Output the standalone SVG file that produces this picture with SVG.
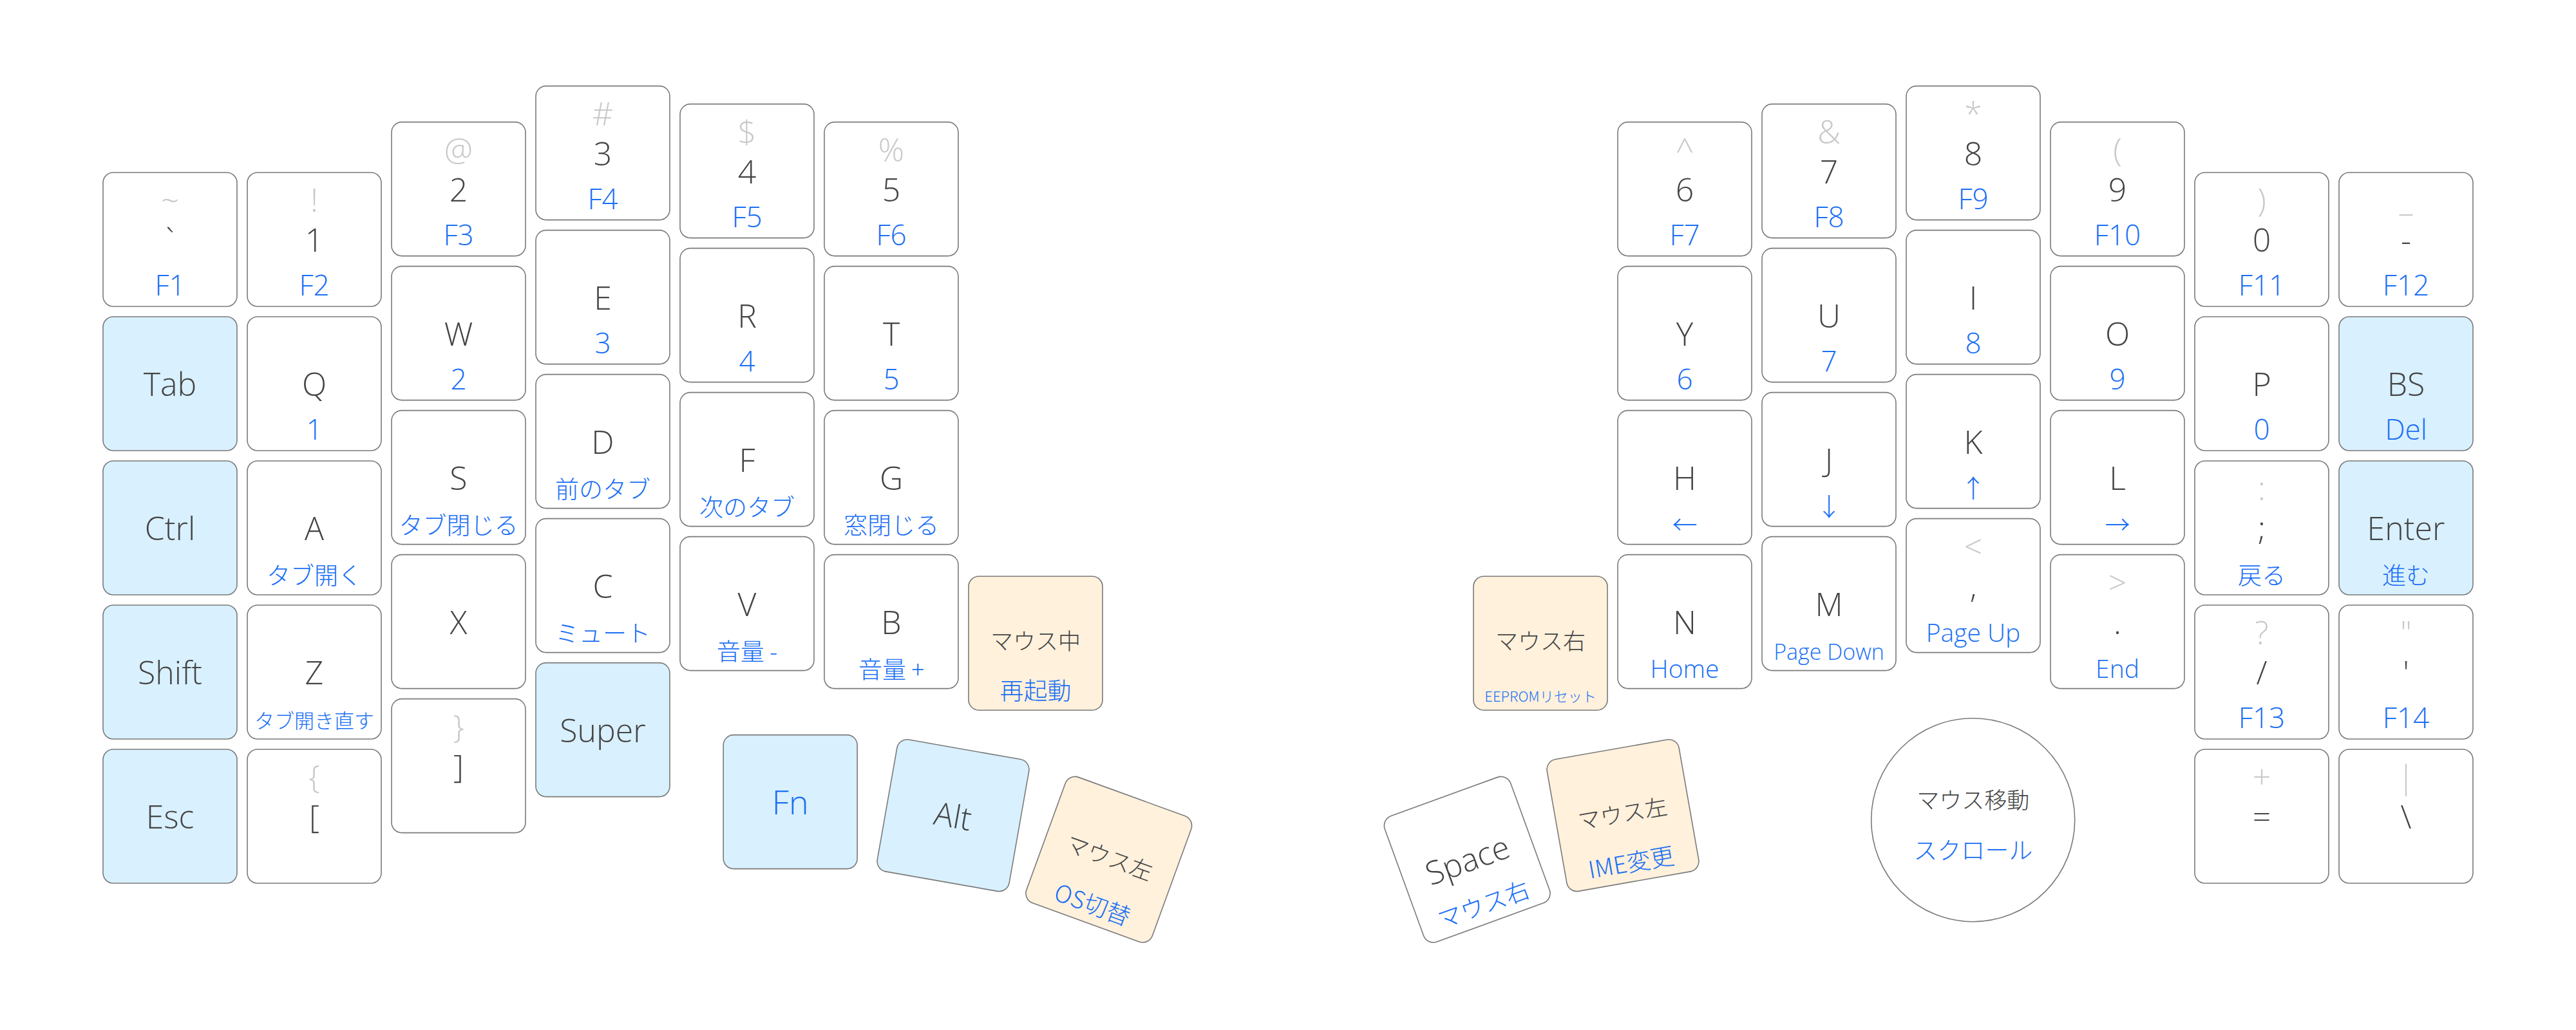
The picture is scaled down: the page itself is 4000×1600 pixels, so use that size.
<svg xmlns="http://www.w3.org/2000/svg" width="4000" height="1600" viewBox="0 0 4000 1600">
<style>
.bg{fill:#ffffff}
.key{fill:#ffffff;stroke:#7a7a7a;stroke-width:1.6}
.mod{fill:#d9f0fe}
.mouse{fill:#fff1dc}
text{font-family:"Open Sans","Noto Sans CJK JP",sans-serif;font-weight:300;text-anchor:middle}
.m{font-size:50px;fill:#444444}
.s{font-size:50px;fill:#c8c8c8}
.b{font-size:39px;fill:#1a6ff5}
.bf{font-size:44px;fill:#1a6ff5}
.bj{font-size:37px;fill:#1a6ff5;font-family:"Noto Sans CJK JP",sans-serif}
.j{font-size:35px;fill:#444444;font-family:"Noto Sans CJK JP",sans-serif}
.fn{font-size:52px;fill:#1a6ff5}
.sm{font-size:31px;fill:#1a6ff5;font-family:"Noto Sans CJK JP",sans-serif}
.xs{font-size:22px;fill:#1a6ff5;font-family:"Noto Sans CJK JP",sans-serif}
.pd{font-size:34px;fill:#1a6ff5}
</style>
<defs>
<rect id="kb" width="208" height="208" rx="16" ry="16"/>
</defs>
<rect class="bg" x="0" y="0" width="4000" height="1600"/>
<g id="connectors"/>
<!-- LEFT HALF -->
<g id="k-grave" transform="translate(160,268)"><use href="#kb" class="key"/><text class="s" x="104" y="61">~</text><text class="m" x="104" y="123">`</text><text class="bf" x="104" y="191">F1</text></g>
<g id="k-tab" transform="translate(160,492)"><use href="#kb" class="key mod"/><text class="m" x="104" y="123">Tab</text></g>
<g id="k-ctrl" transform="translate(160,716)"><use href="#kb" class="key mod"/><text class="m" x="104" y="123">Ctrl</text></g>
<g id="k-shift" transform="translate(160,940)"><use href="#kb" class="key mod"/><text class="m" x="104" y="123">Shift</text></g>
<g id="k-esc" transform="translate(160,1164)"><use href="#kb" class="key mod"/><text class="m" x="104" y="123">Esc</text></g>

<g id="k-1" transform="translate(384,268)"><use href="#kb" class="key"/><text class="s" x="104" y="61">!</text><text class="m" x="104" y="123">1</text><text class="bf" x="104" y="191">F2</text></g>
<g id="k-q" transform="translate(384,492)"><use href="#kb" class="key"/><text class="m" x="104" y="123">Q</text><text class="bf" x="104" y="191">1</text></g>
<g id="k-a" transform="translate(384,716)"><use href="#kb" class="key"/><text class="m" x="104" y="123">A</text><text class="bj" x="104" y="192">タブ開く</text></g>
<g id="k-z" transform="translate(384,940)"><use href="#kb" class="key"/><text class="m" x="104" y="123">Z</text><text class="sm" x="104" y="191">タブ開き直す</text></g>
<g id="k-lbracket" transform="translate(384,1164)"><use href="#kb" class="key"/><text class="s" x="104" y="61">{</text><text class="m" x="104" y="123">[</text></g>

<g id="k-2" transform="translate(608,189.6)"><use href="#kb" class="key"/><text class="s" x="104" y="61">@</text><text class="m" x="104" y="123">2</text><text class="bf" x="104" y="191">F3</text></g>
<g id="k-w" transform="translate(608,413.6)"><use href="#kb" class="key"/><text class="m" x="104" y="123">W</text><text class="bf" x="104" y="191">2</text></g>
<g id="k-s" transform="translate(608,637.6)"><use href="#kb" class="key"/><text class="m" x="104" y="123">S</text><text class="bj" x="104" y="192">タブ閉じる</text></g>
<g id="k-x" transform="translate(608,861.6)"><use href="#kb" class="key"/><text class="m" x="104" y="123">X</text></g>
<g id="k-rbracket" transform="translate(608,1085.6)"><use href="#kb" class="key"/><text class="s" x="104" y="61">}</text><text class="m" x="104" y="123">]</text></g>

<g id="k-3" transform="translate(832,133.6)"><use href="#kb" class="key"/><text class="s" x="104" y="61">#</text><text class="m" x="104" y="123">3</text><text class="bf" x="104" y="191">F4</text></g>
<g id="k-e" transform="translate(832,357.6)"><use href="#kb" class="key"/><text class="m" x="104" y="123">E</text><text class="bf" x="104" y="191">3</text></g>
<g id="k-d" transform="translate(832,581.6)"><use href="#kb" class="key"/><text class="m" x="104" y="123">D</text><text class="bj" x="104" y="192">前のタブ</text></g>
<g id="k-c" transform="translate(832,805.6)"><use href="#kb" class="key"/><text class="m" x="104" y="123">C</text><text class="bj" x="104" y="192">ミュート</text></g>
<g id="k-super" transform="translate(832,1029.6)"><use href="#kb" class="key mod"/><text class="m" x="104" y="123">Super</text></g>

<g id="k-4" transform="translate(1056,161.6)"><use href="#kb" class="key"/><text class="s" x="104" y="61">$</text><text class="m" x="104" y="123">4</text><text class="bf" x="104" y="191">F5</text></g>
<g id="k-r" transform="translate(1056,385.6)"><use href="#kb" class="key"/><text class="m" x="104" y="123">R</text><text class="bf" x="104" y="191">4</text></g>
<g id="k-f" transform="translate(1056,609.6)"><use href="#kb" class="key"/><text class="m" x="104" y="123">F</text><text class="bj" x="104" y="192">次のタブ</text></g>
<g id="k-v" transform="translate(1056,833.6)"><use href="#kb" class="key"/><text class="m" x="104" y="123">V</text><text class="bj" x="104" y="192">音量 -</text></g>

<g id="k-5" transform="translate(1280,189.6)"><use href="#kb" class="key"/><text class="s" x="104" y="61">%</text><text class="m" x="104" y="123">5</text><text class="bf" x="104" y="191">F6</text></g>
<g id="k-t" transform="translate(1280,413.6)"><use href="#kb" class="key"/><text class="m" x="104" y="123">T</text><text class="bf" x="104" y="191">5</text></g>
<g id="k-g" transform="translate(1280,637.6)"><use href="#kb" class="key"/><text class="m" x="104" y="123">G</text><text class="bj" x="104" y="192">窓閉じる</text></g>
<g id="k-b" transform="translate(1280,861.6)"><use href="#kb" class="key"/><text class="m" x="104" y="123">B</text><text class="bj" x="104" y="192">音量 +</text></g>

<g id="k-mouse-middle" transform="translate(1504,895.2)"><use href="#kb" class="key mouse"/><text class="j" x="104" y="114">マウス中</text><text class="bj" x="104" y="192">再起動</text></g>
<g id="k-fn" transform="translate(1123.2,1141.6)"><use href="#kb" class="key mod"/><text class="fn" x="104" y="123">Fn</text></g>
<g id="k-alt" transform="translate(1480,1266.7) rotate(10) translate(-104,-104)"><use href="#kb" class="key mod"/><text class="m" x="104" y="123">Alt</text></g>
<g id="k-mouse-left-os" transform="translate(1721.8,1335.2) rotate(20) translate(-104,-104)"><use href="#kb" class="key mouse"/><text class="j" x="104" y="114">マウス左</text><text class="bj" x="104" y="192">OS切替</text></g>

<!-- RIGHT HALF -->
<g id="k-6" transform="translate(2512,189.6)"><use href="#kb" class="key"/><text class="s" x="104" y="61">^</text><text class="m" x="104" y="123">6</text><text class="bf" x="104" y="191">F7</text></g>
<g id="k-y" transform="translate(2512,413.6)"><use href="#kb" class="key"/><text class="m" x="104" y="123">Y</text><text class="bf" x="104" y="191">6</text></g>
<g id="k-h" transform="translate(2512,637.6)"><use href="#kb" class="key"/><text class="m" x="104" y="123">H</text><text class="b" x="104" y="191">←</text></g>
<g id="k-n" transform="translate(2512,861.6)"><use href="#kb" class="key"/><text class="m" x="104" y="123">N</text><text class="b" x="104" y="191">Home</text></g>

<g id="k-7" transform="translate(2736,161.6)"><use href="#kb" class="key"/><text class="s" x="104" y="61">&amp;</text><text class="m" x="104" y="123">7</text><text class="bf" x="104" y="191">F8</text></g>
<g id="k-u" transform="translate(2736,385.6)"><use href="#kb" class="key"/><text class="m" x="104" y="123">U</text><text class="bf" x="104" y="191">7</text></g>
<g id="k-j" transform="translate(2736,609.6)"><use href="#kb" class="key"/><text class="m" x="104" y="123">J</text><text class="b" x="104" y="191">↓</text></g>
<g id="k-m" transform="translate(2736,833.6)"><use href="#kb" class="key"/><text class="m" x="104" y="123">M</text><text class="pd" x="104" y="191">Page Down</text></g>

<g id="k-8" transform="translate(2960,133.6)"><use href="#kb" class="key"/><text class="s" x="104" y="61">*</text><text class="m" x="104" y="123">8</text><text class="bf" x="104" y="191">F9</text></g>
<g id="k-i" transform="translate(2960,357.6)"><use href="#kb" class="key"/><text class="m" x="104" y="123">I</text><text class="bf" x="104" y="191">8</text></g>
<g id="k-k" transform="translate(2960,581.6)"><use href="#kb" class="key"/><text class="m" x="104" y="123">K</text><text class="b" x="104" y="191">↑</text></g>
<g id="k-comma" transform="translate(2960,805.6)"><use href="#kb" class="key"/><text class="s" x="104" y="61">&lt;</text><text class="m" x="104" y="123">,</text><text class="b" x="104" y="191">Page Up</text></g>

<g id="k-9" transform="translate(3184,189.6)"><use href="#kb" class="key"/><text class="s" x="104" y="61">(</text><text class="m" x="104" y="123">9</text><text class="bf" x="104" y="191">F10</text></g>
<g id="k-o" transform="translate(3184,413.6)"><use href="#kb" class="key"/><text class="m" x="104" y="123">O</text><text class="bf" x="104" y="191">9</text></g>
<g id="k-l" transform="translate(3184,637.6)"><use href="#kb" class="key"/><text class="m" x="104" y="123">L</text><text class="b" x="104" y="191">→</text></g>
<g id="k-period" transform="translate(3184,861.6)"><use href="#kb" class="key"/><text class="s" x="104" y="61">&gt;</text><text class="m" x="104" y="123">.</text><text class="b" x="104" y="191">End</text></g>

<g id="k-0" transform="translate(3408,268)"><use href="#kb" class="key"/><text class="s" x="104" y="61">)</text><text class="m" x="104" y="123">0</text><text class="bf" x="104" y="191">F11</text></g>
<g id="k-p" transform="translate(3408,492)"><use href="#kb" class="key"/><text class="m" x="104" y="123">P</text><text class="bf" x="104" y="191">0</text></g>
<g id="k-semicolon" transform="translate(3408,716)"><use href="#kb" class="key"/><text class="s" x="104" y="61">:</text><text class="m" x="104" y="123">;</text><text class="bj" x="104" y="192">戻る</text></g>
<g id="k-slash" transform="translate(3408,940)"><use href="#kb" class="key"/><text class="s" x="104" y="61">?</text><text class="m" x="104" y="123">/</text><text class="bf" x="104" y="191">F13</text></g>
<g id="k-equal" transform="translate(3408,1164)"><use href="#kb" class="key"/><text class="s" x="104" y="61">+</text><text class="m" x="104" y="123">=</text></g>

<g id="k-minus" transform="translate(3632,268)"><use href="#kb" class="key"/><text class="s" x="104" y="61">_</text><text class="m" x="104" y="123">-</text><text class="bf" x="104" y="191">F12</text></g>
<g id="k-bs" transform="translate(3632,492)"><use href="#kb" class="key mod"/><text class="m" x="104" y="123">BS</text><text class="bf" x="104" y="191">Del</text></g>
<g id="k-enter" transform="translate(3632,716)"><use href="#kb" class="key mod"/><text class="m" x="104" y="123">Enter</text><text class="bj" x="104" y="192">進む</text></g>
<g id="k-quote" transform="translate(3632,940)"><use href="#kb" class="key"/><text class="s" x="104" y="61">"</text><text class="m" x="104" y="123">'</text><text class="bf" x="104" y="191">F14</text></g>
<g id="k-backslash" transform="translate(3632,1164)"><use href="#kb" class="key"/><text class="s" x="104" y="61">|</text><text class="m" x="104" y="123">\</text></g>

<g id="k-mouse-right" transform="translate(2288,895.2)"><use href="#kb" class="key mouse"/><text class="j" x="104" y="114">マウス右</text><text class="xs" x="104" y="195">EEPROMリセット</text></g>
<g id="k-space" transform="translate(2278.2,1335.2) rotate(-20) translate(-104,-104)"><use href="#kb" class="key"/><text class="m" x="104" y="123">Space</text><text class="bj" x="104" y="192">マウス右</text></g>
<g id="k-mouse-left-ime" transform="translate(2520,1266.7) rotate(-10) translate(-104,-104)"><use href="#kb" class="key mouse"/><text class="j" x="104" y="114">マウス左</text><text class="bj" x="104" y="192">IME変更</text></g>
<g id="trackball"><circle class="key" cx="3063.7" cy="1273.7" r="158"/><text class="j" x="3063.7" y="1255.6">マウス移動</text><text class="bj" x="3063.7" y="1335.4">スクロール</text></g>
</svg>
